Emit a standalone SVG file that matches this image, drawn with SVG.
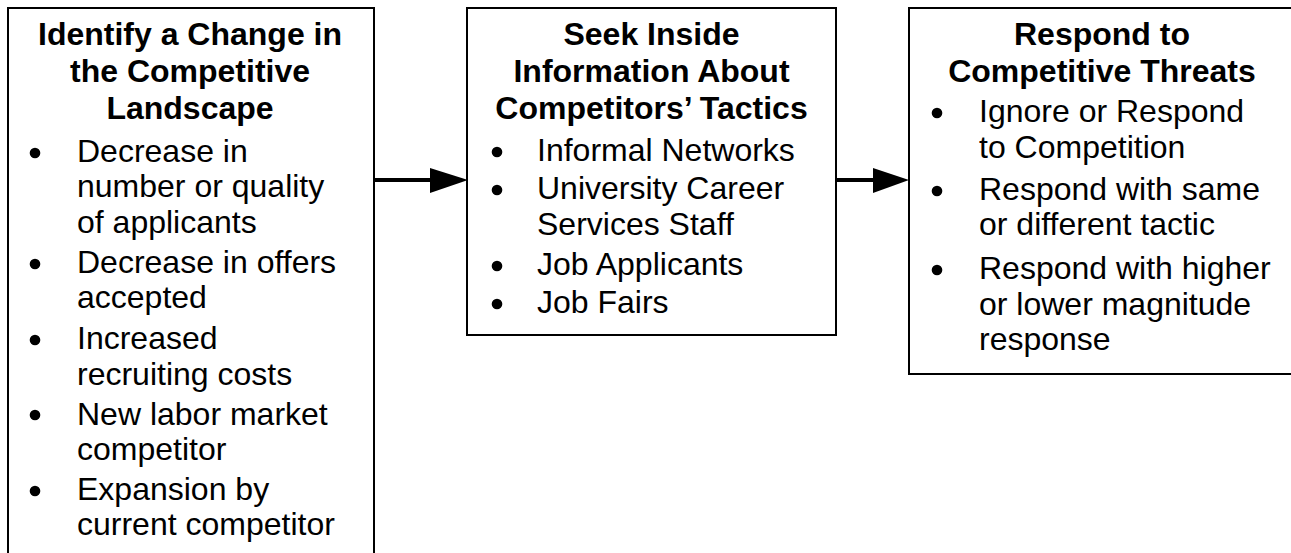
<svg xmlns="http://www.w3.org/2000/svg" width="1291" height="553" viewBox="0 0 1291 553">
<style>
.box{fill:#fff;stroke:#000;stroke-width:2}
.t{font-family:"Liberation Sans",Arial,sans-serif;font-size:32px;font-weight:bold;text-anchor:middle;fill:#000}
.b{font-family:"Liberation Sans",Arial,sans-serif;font-size:32px;fill:#000}
.dot{fill:#000}
.ln{stroke:#000;stroke-width:4;fill:none}
.hd{fill:#000}
</style>
<rect x="0" y="0" width="1291" height="553" fill="#fff"/>
<g id="node-identify">
<rect class="box" x="8" y="8" width="366" height="570"/>
<text class="t" x="190" y="45">Identify a Change in</text>
<text class="t" x="190" y="82">the Competitive</text>
<text class="t" x="190" y="119">Landscape</text>
<circle class="dot" cx="35" cy="153" r="5.3"/>
<text class="b" x="77" y="162">Decrease in</text>
<text class="b" x="77" y="197">number or quality</text>
<text class="b" x="77" y="233">of applicants</text>
<circle class="dot" cx="35" cy="264" r="5.3"/>
<text class="b" x="77" y="273">Decrease in offers</text>
<text class="b" x="77" y="308">accepted</text>
<circle class="dot" cx="35" cy="340" r="5.3"/>
<text class="b" x="77" y="349">Increased</text>
<text class="b" x="77" y="385">recruiting costs</text>
<circle class="dot" cx="35" cy="415" r="5.3"/>
<text class="b" x="77" y="425">New labor market</text>
<text class="b" x="77" y="460">competitor</text>
<circle class="dot" cx="35" cy="491" r="5.3"/>
<text class="b" x="77" y="500">Expansion by</text>
<text class="b" x="77" y="535">current competitor</text>
</g>
<g id="node-seek">
<rect class="box" x="467" y="8" width="369" height="327"/>
<text class="t" x="651.5" y="45">Seek Inside</text>
<text class="t" x="651.5" y="82">Information About</text>
<text class="t" x="651.5" y="119">Competitors’ Tactics</text>
<circle class="dot" cx="497" cy="152" r="5.3"/>
<text class="b" x="537" y="161">Informal Networks</text>
<circle class="dot" cx="497" cy="190" r="5.3"/>
<text class="b" x="537" y="199">University Career</text>
<text class="b" x="537" y="235">Services Staff</text>
<circle class="dot" cx="497" cy="266" r="5.3"/>
<text class="b" x="537" y="275">Job Applicants</text>
<circle class="dot" cx="497" cy="304" r="5.3"/>
<text class="b" x="537" y="313">Job Fairs</text>
</g>
<g id="node-respond">
<rect class="box" x="909" y="8" width="392" height="366"/>
<text class="t" x="1102" y="45">Respond to</text>
<text class="t" x="1102" y="82">Competitive Threats</text>
<circle class="dot" cx="937" cy="113" r="5.3"/>
<text class="b" x="979" y="122">Ignore or Respond</text>
<text class="b" x="979" y="158">to Competition</text>
<circle class="dot" cx="937" cy="191" r="5.3"/>
<text class="b" x="979" y="200">Respond with same</text>
<text class="b" x="979" y="235">or different tactic</text>
<circle class="dot" cx="937" cy="270" r="5.3"/>
<text class="b" x="979" y="279">Respond with higher</text>
<text class="b" x="979" y="315">or lower magnitude</text>
<text class="b" x="979" y="350">response</text>
</g>
<g id="connectors">
<line class="ln" x1="374" y1="180" x2="432" y2="180"/>
<polygon class="hd" points="430,168 468,180 430,193"/>
<line class="ln" x1="836" y1="180" x2="875" y2="180"/>
<polygon class="hd" points="873,168 909,180 873,193"/>
</g>
</svg>
